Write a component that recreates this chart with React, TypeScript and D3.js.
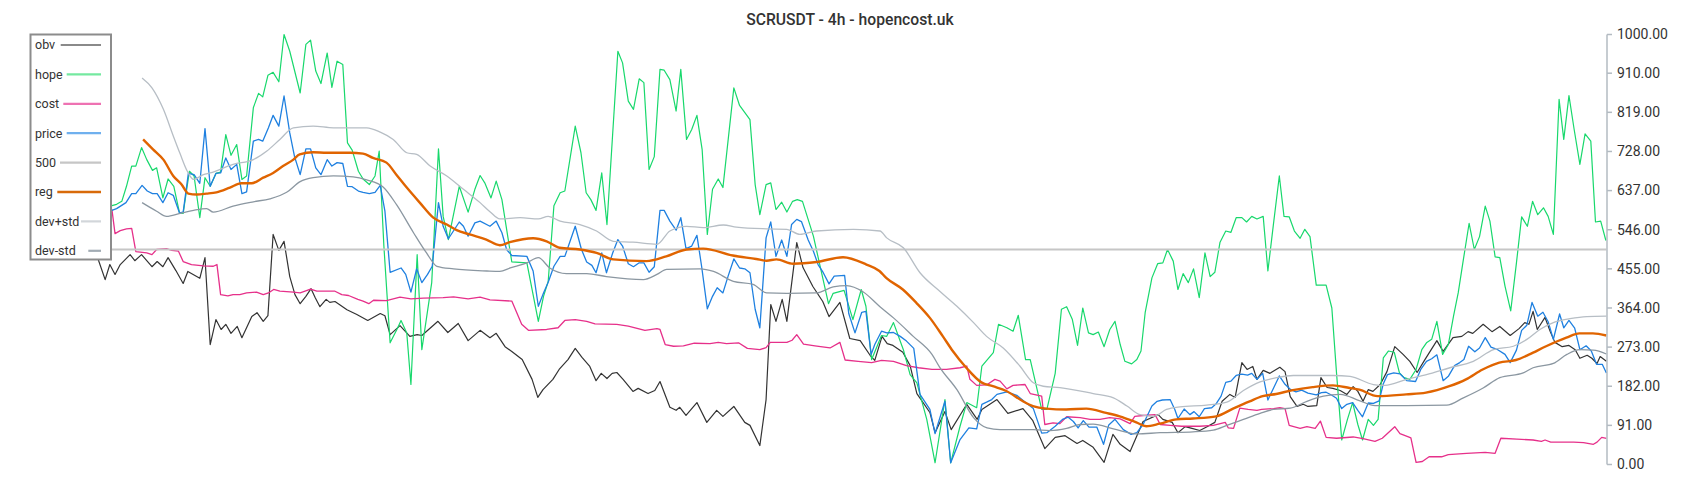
import React, { useEffect, useRef } from "react";
import * as d3 from "d3";

const TITLE = "SCRUSDT - 4h - hopencost.uk";
const BAR_COUNT = 303;
const yTickLabels = ["0.00", "91.00", "182.00", "273.00", "364.00", "455.00", "546.00", "637.00", "728.00", "819.00", "910.00", "1000.00"];
const LEVEL = 500;

type Pt = [number, number];

const obv: Pt[] = [[11.9,479],[13.3,430],[14.2,465],[15.2,442],[16.2,465],[18.1,488],[19,474],[20.3,488],[22.3,460],[23.3,472],[24.4,460],[25.4,481],[26.9,451],[28.3,421],[29.2,449],[31.5,433],[32.5,481],[33.5,279],[34.6,337],[35.6,314],[36.5,326],[37.5,305],[38.7,321],[39.6,295],[41.5,344],[42.5,353],[43.7,333],[44.6,346],[45.6,535],[46.7,498],[47.7,519],[48.8,437],[49.8,395],[50.8,374],[51.9,391],[52.9,409],[53.7,388],[54.6,367],[55.8,384],[56.5,377],[57.5,379],[59.8,360],[61.7,349],[63.8,335],[66.2,351],[67.1,346],[68.1,302],[70,323],[71.9,298],[73.3,302],[74.2,300],[77.3,333],[79.2,307],[81.2,328],[83.1,288],[85.4,312],[87.3,295],[88.5,305],[90.2,274],[91.5,263],[93.5,244],[95.4,198],[96.5,156],[97.5,174],[99.4,198],[100.6,221],[102.3,244],[103.7,270],[105,249],[106.5,228],[107.7,195],[108.7,212],[109.8,200],[110.8,212],[111.7,214],[112.9,198],[114.8,170],[115.8,177],[117.7,165],[119,172],[120,193],[121.9,133],[123.1,126],[123.8,133],[125,114],[127.1,144],[129,98],[130.9,126],[132.1,112],[134.2,135],[136.3,98],[137.3,91],[139.2,44],[140.4,151],[141.3,372],[142.3,333],[143.5,384],[144.4,333],[146.3,516],[147.5,458],[149.4,414],[151.3,379],[152.5,344],[154.6,377],[156.5,293],[158.5,288],[160.4,254],[161.3,242],[162.7,298],[163.7,281],[164.8,277],[166.7,261],[168.1,230],[169.4,165],[171.9,121],[172.9,74],[174.8,123],[176,81],[179,140],[181,105],[181.9,128],[184.8,151],[186.9,119],[189.8,130],[191.7,102],[194,37],[196,63],[197.9,67],[200.2,49],[201.3,56],[203.3,40],[205.4,5],[207.1,70],[208.5,47],[210.4,30],[212.9,100],[215.8,116],[216.7,105],[218.5,98],[219.6,74],[221,88],[222.3,84],[223.8,79],[225.2,88],[226.7,98],[228.1,147],[229.6,163],[230.6,156],[231.9,237],[232.9,221],[234,228],[234.8,198],[236,219],[237.3,212],[239.2,226],[240.2,216],[241.2,158],[242.5,135],[243.7,140],[244.6,135],[246.3,137],[247.1,202],[248.3,179],[249.4,177],[250.8,172],[252.1,163],[253.3,181],[254.2,170],[255.2,147],[256.2,174],[257.1,170],[258.5,186],[259.8,216],[261.3,274],[262.9,256],[264.2,240],[265.6,214],[267.1,244],[269.4,288],[270.6,263],[272.5,295],[274.2,298],[275.4,309],[276.3,305],[278.3,326],[280,309],[281.5,321],[283.5,300],[285.2,316],[286.3,330],[287.1,326],[287.9,356],[288.7,314],[290.2,342],[291.2,309],[292.1,284],[293.5,274],[294.8,277],[296,267],[296.9,247],[298.3,254],[299.2,247],[300.2,235],[300.8,251],[302,240]];

const hope: Pt[] = [[14.6,602],[15.5,605],[16.5,612],[17.4,647],[18.4,694],[19.2,694],[20.3,737],[21.3,709],[22.4,684],[23.2,690],[24.4,620],[25.4,664],[26.5,647],[27.6,585],[28.3,584],[29.5,682],[30.4,671],[31.5,574],[32.5,667],[33.5,647],[34.6,677],[35.5,680],[36.5,767],[37.5,719],[38.6,744],[39.6,663],[40.5,671],[41.8,830],[42.8,863],[43.6,855],[44.6,905],[45.6,912],[46.7,890],[47.7,1000],[48.8,961],[50.8,864],[51.9,977],[52.8,987],[53.8,915],[54.8,886],[56,957],[56.9,877],[57.9,938],[59,930],[59.9,748],[60.8,731],[62,682],[62.9,664],[64.1,651],[65.2,671],[66,729],[66.9,508],[68.1,283],[69.4,314],[70.2,335],[71.3,306],[72.1,186],[73.3,488],[74.2,267],[76.1,423],[77.4,734],[78.3,577],[79.3,523],[81.4,647],[83.1,587],[84.4,640],[85.4,672],[86.3,655],[87.5,620],[88.5,659],[89.6,616],[91.5,471],[94.4,469],[96.6,333],[97.6,391],[98.5,426],[99.6,602],[100.8,632],[101.7,636],[103.7,787],[104.8,725],[105.8,632],[106.7,616],[107.7,591],[108.8,678],[109.8,558],[111.9,961],[112.8,934],[113.9,845],[114.9,826],[116,897],[116.9,888],[117.9,686],[118.9,716],[120,919],[120.8,917],[121.9,895],[123.1,822],[124,919],[125.1,756],[126.1,779],[127.1,812],[128.1,733],[129.1,535],[130.1,640],[131.2,664],[132.1,644],[134.2,876],[135.3,835],[137.3,802],[138.3,651],[139.2,581],[140.4,651],[141.3,655],[142.3,593],[143.4,610],[144.4,587],[145.5,612],[146.4,616],[147.4,612],[149.5,531],[152.4,374],[153.3,398],[155.4,405],[157.1,337],[158.7,407],[159.6,368],[160.7,244],[162.6,300],[163.6,298],[164.9,330],[166.8,267],[168.1,209],[169.4,190],[171.3,105],[172.9,4],[174.8,151],[175.9,4],[177.7,89],[179,144],[180.9,132],[181.9,229],[184.1,260],[185.1,326],[186.7,318],[187.9,310],[188.9,347],[190.3,244],[191.2,244],[193.4,128],[194.4,128],[196,212],[197.2,361],[198.2,367],[199.3,337],[200.3,277],[201.3,364],[202.4,306],[203.3,302],[204.3,308],[205.4,274],[206.5,314],[207.5,333],[208.5,279],[209.4,240],[210.7,234],[211.7,244],[212.5,264],[213.3,353],[214.6,434],[215.7,467],[216.7,469],[217.6,500],[218.7,473],[219.6,407],[220.6,444],[221.6,423],[222.6,455],[223.7,388],[224.8,492],[225.8,437],[226.7,447],[227.7,517],[228.8,543],[229.8,540],[230.8,574],[231.9,574],[232.8,564],[233.8,577],[234.8,571],[236,577],[236.9,450],[238,562],[239.1,671],[240,577],[241,576],[242,543],[243.1,526],[244,547],[245,530],[246.2,417],[248.1,417],[249.2,364],[250.1,213],[251.1,57],[252.2,105],[253.2,144],[254.2,93],[255.1,57],[256.2,105],[257.2,91],[258.1,105],[259.1,248],[260.1,264],[261.2,261],[262.2,213],[263.1,202],[264.2,198],[265.4,221],[266.5,267],[267.4,283],[268.4,291],[269.4,333],[270.5,256],[271.6,279],[272.6,345],[273.5,399],[274.5,477],[275.6,561],[276.6,500],[277.6,530],[278.7,601],[279.6,566],[280.6,483],[281.5,481],[282.5,415],[283.6,357],[284.7,469],[285.7,576],[286.8,554],[287.8,612],[288.8,581],[289.9,597],[290.8,577],[291.8,535],[292.9,849],[293.8,756],[294.8,858],[295.8,779],[296.9,698],[297.9,769],[299,752],[299.9,564],[300.9,566],[301.9,521]];

const cost: Pt[] = [[14.6,593],[15.2,537],[16.2,544],[17.4,548],[18.4,549],[19.2,495],[21.3,492],[22.3,488],[23.2,500],[25.1,502],[26.1,498],[27.4,496],[28.3,472],[29.9,465],[32.2,462],[34.1,461],[34.8,465],[35.5,395],[36.9,392],[37.9,395],[39.2,395],[40.5,399],[42.4,401],[43.7,395],[44.7,399],[45.7,407],[46.9,403],[49.5,401],[50.8,399],[52.8,408],[54,403],[57.5,403],[58.8,395],[60.1,393],[61.9,384],[62.9,380],[64,374],[64.9,382],[67.4,381],[70,389],[72.1,385],[74.5,387],[78.3,388],[80.3,390],[83.1,385],[85.4,389],[87.3,383],[91.5,380],[93.4,326],[94.7,312],[98.2,314],[100.4,318],[101.7,335],[103.7,337],[105.9,333],[107.5,327],[111.7,326],[113.9,322],[117.1,312],[119.4,316],[120,314],[121,279],[122.6,275],[124.5,276],[126.6,282],[129.6,281],[131.2,284],[132.8,281],[135.1,283],[136.8,270],[139.2,267],[140.4,272],[141.2,284],[142.8,284],[144.4,284],[145.4,289],[146.3,302],[147.6,280],[149.8,276],[152.7,271],[154.6,284],[155.6,243],[158.1,240],[160.7,237],[162.6,242],[164.9,240],[167.4,230],[169.7,225],[172.3,221],[175.1,221],[177.7,225],[179,229],[179.6,198],[180.9,184],[182.8,185],[184.4,198],[185.4,194],[186.7,176],[187.9,184],[190.2,186],[191.2,165],[193.4,159],[194,93],[195.6,97],[196.9,95],[198.2,111],[200.8,109],[202.7,105],[204.6,105],[206.5,109],[208.5,106],[210.4,95],[211.3,112],[212.9,114],[215.2,116],[216.2,93],[218.1,91],[220.3,89],[223.8,89],[226.4,91],[228.7,98],[229.3,85],[230.3,84],[231.5,131],[233.1,128],[234.8,126],[235.7,128],[238,130],[239.2,132],[240.2,130],[241,91],[243.1,84],[244.4,88],[246,84],[247,101],[248.1,63],[250.1,61],[253.3,64],[255.2,60],[257.5,54],[258.9,61],[261.3,88],[262.3,72],[263.8,65],[264.4,62],[265.4,5],[266.6,7],[267.9,18],[270.3,18],[271.6,23],[275.1,26],[278.7,28],[280.6,26],[281.7,61],[284.8,59],[287.9,57],[289.5,54],[290.2,57],[291.3,52],[295.7,52],[297.6,51],[299.5,47],[300.2,52],[301.1,63],[302,61]];

const price: Pt[] = [[14.6,591],[15.5,595],[17.3,609],[18.4,630],[19.2,630],[20.4,649],[21.4,636],[22.4,630],[23.3,630],[24.4,609],[25.4,632],[26.4,626],[27.6,585],[28.3,587],[29.3,677],[30.4,674],[31.5,654],[32.5,781],[33.5,647],[34.6,677],[35.5,678],[36.5,713],[37.5,686],[38.6,698],[39.6,630],[40.5,634],[41.8,752],[42.8,756],[43.6,752],[44.7,783],[45.6,812],[46.7,787],[47.7,857],[48.8,771],[49.7,717],[50.8,674],[51.9,734],[52.8,734],[53.8,690],[54.8,674],[56,709],[56.9,694],[57.9,702],[59,700],[59.9,647],[60.8,646],[62,636],[62.9,633],[64.1,630],[65.2,633],[66.2,649],[67.1,589],[68.1,447],[70.2,457],[71.1,442],[72.1,401],[73.2,455],[74.2,423],[75.3,442],[76.2,461],[77.4,609],[78.3,554],[79.3,525],[81.4,564],[82.2,554],[83.1,531],[84.4,562],[85.4,566],[87.3,554],[88.5,566],[89.6,539],[90.5,500],[91.5,486],[94.4,484],[95.6,450],[96.6,368],[97.6,399],[98.5,424],[99.6,461],[100.8,484],[101.7,484],[103.7,554],[104.9,500],[105.9,471],[106.9,463],[107.7,446],[108.8,492],[109.7,446],[110.9,492],[111.9,523],[112.8,508],[113.9,467],[114.9,460],[116,469],[116.9,469],[117.9,447],[118.9,460],[120,591],[120.8,591],[121.9,566],[123.1,545],[124,574],[125,502],[126.1,508],[127.1,533],[128,461],[129.1,362],[130.1,391],[131,411],[132.1,399],[133.1,438],[134.2,478],[135.3,457],[136.3,455],[137.3,446],[138.3,361],[139.2,318],[140.4,527],[141.3,564],[142.3,484],[143.4,522],[144.4,484],[145.3,558],[146.3,570],[147.2,565],[148.5,522],[149.5,496],[150.4,465],[151.4,446],[152.5,420],[153.5,438],[155.5,440],[156.3,351],[157.5,306],[158.8,354],[159.6,356],[160.6,256],[161.3,279],[162.6,310],[163.6,306],[164.9,307],[166.2,298],[167.4,287],[168.8,270],[170,163],[171.9,128],[172.9,72],[174.8,147],[175.9,4],[177.7,58],[179.4,85],[180.9,83],[181.9,140],[182.8,145],[183.8,151],[184.8,163],[186.7,169],[188.6,161],[190.3,144],[191.8,130],[193.4,73],[194.4,74],[196,89],[197.4,105],[198.5,110],[199.5,100],[200.4,85],[201.4,102],[202.5,87],[204,87],[205.3,47],[206.3,92],[207.5,105],[209.1,81],[210.6,70],[211.7,74],[212.9,93],[214.6,136],[215.6,147],[216.6,150],[218.1,151],[219,128],[219.6,107],[220.8,129],[221.9,116],[222.7,123],[223.7,111],[224.7,130],[226.1,132],[227,142],[227.9,159],[228.8,191],[229.8,194],[230.8,207],[231.9,210],[233,208],[233.8,212],[234.8,198],[235.9,212],[236.9,150],[238,178],[239.1,206],[240.1,188],[241.3,174],[242.3,169],[243.4,173],[244.6,166],[246.2,162],[247.2,167],[248.1,168],[249.2,161],[250.1,154],[251.1,130],[252.1,140],[253.2,144],[254.2,126],[255.1,111],[256.2,143],[257.2,142],[258.3,148],[259.1,188],[259.9,209],[261.1,213],[262.3,211],[263.6,195],[265.3,193],[266.3,221],[267.4,240],[268.4,246],[269.4,255],[270.6,195],[271.6,205],[272.8,230],[273.8,237],[274.6,244],[275.5,275],[276.7,262],[277.6,271],[278.7,295],[279.8,273],[281.1,267],[282.5,256],[283.5,237],[284.7,266],[285.7,312],[286.7,324],[287.7,377],[288.8,345],[289.8,354],[290.8,332],[291.8,291],[293,350],[293.8,318],[294.8,335],[295.9,317],[296.9,267],[298.1,276],[299.1,264],[300.1,233],[301.2,233],[302,213]];

const reg: Pt[] = [[20.6,756],[22.5,733],[24.5,709],[26.4,671],[28,651],[29.3,630],[30.9,628],[32.8,630],[34.7,633],[37.3,644],[39.5,654],[41.5,654],[43.7,667],[45.6,678],[47.5,694],[49.5,709],[50.7,721],[53.3,726],[55.9,725],[60.4,725],[62.9,723],[64.8,713],[67.4,702],[69.3,674],[71.3,644],[73.8,609],[76.4,574],[79,558],[80.9,545],[83.4,535],[86.6,523],[89.2,510],[91.1,517],[95.6,526],[98.2,519],[100.7,504],[104.6,500],[107.8,492],[111,477],[117.4,473],[121.2,484],[125.1,500],[128.3,502],[134,486],[138.5,478],[140.5,474],[142.4,477],[145.6,467],[150.1,471],[155.2,482],[159.7,465],[162.2,450],[163.5,434],[166.7,407],[169.3,376],[171.9,341],[174.4,298],[176.3,264],[178.9,225],[181.8,191],[184,182],[186.6,171],[189.8,147],[191.7,136],[194.3,130],[198.1,128],[202,130],[205.8,120],[208.4,112],[211.6,98],[213.5,89],[216.1,95],[219.3,105],[222.5,107],[227,112],[230.2,130],[233.4,147],[235.9,159],[238.5,164],[241.7,173],[245.5,180],[249.4,184],[252.6,178],[254.5,174],[258,159],[263.5,163],[267.3,167],[271.8,182],[275,198],[278.2,221],[281.4,237],[284.6,243],[287.2,256],[290.4,275],[294.3,295],[296.8,305],[299.4,305],[302,300]];

const devPlus: Pt[] = [[20.4,899],[22.3,876],[24.5,826],[26.4,764],[27.7,723],[29.1,682],[30.3,663],[32.2,674],[33.5,678],[37.9,698],[41.8,709],[44.4,729],[46.9,756],[49.5,783],[53.3,787],[57.2,783],[63.6,783],[66.2,773],[68.7,756],[71.3,725],[73.2,721],[75.8,694],[79,671],[82.2,640],[85.4,609],[87.3,588],[89.2,571],[93.1,574],[96.6,571],[98.5,577],[100.8,566],[104.6,558],[107.8,543],[111,519],[114.8,517],[119.4,512],[121.9,543],[125.1,554],[128.3,551],[132.2,557],[134.7,552],[140.5,548],[144.4,547],[146.9,535],[150.1,543],[157.2,547],[162.3,543],[163.6,527],[166.8,504],[170,446],[173.8,403],[177.1,368],[180.3,330],[182.8,298],[186,271],[189.2,229],[191.8,190],[193.7,182],[196.9,179],[203.3,165],[207.2,155],[209.8,136],[212.3,116],[214.9,112],[217.4,128],[220,134],[225.1,138],[229,145],[232.2,172],[235.4,192],[238.6,202],[241.8,207],[249.5,207],[252.7,205],[257.2,186],[259.4,184],[263.6,198],[267.4,209],[271.9,225],[276.4,240],[280.3,267],[284.1,275],[286.7,291],[289.2,314],[291.8,330],[295,339],[298.2,344],[302,345]];

const devMinus: Pt[] = [[20.4,609],[23.2,589],[25.1,577],[27.7,584],[30.3,591],[32.8,595],[34.1,587],[37.9,601],[41.8,611],[45,618],[48.2,633],[50.8,658],[53.3,667],[57.2,671],[61,669],[63.6,662],[66.8,645],[69.4,603],[72.6,539],[75.1,492],[77.1,461],[80.3,455],[86.7,450],[89.2,449],[91.2,457],[94.4,469],[96.6,481],[98.8,457],[102,444],[105.9,444],[109.7,437],[116.8,430],[119.4,442],[121.3,454],[127.7,455],[130.3,449],[134.1,426],[137.9,419],[140.5,399],[144.4,398],[150.1,399],[153.3,413],[155.9,416],[159.1,401],[162.3,367],[164.9,341],[168.7,298],[172.3,256],[173.8,226],[177.1,174],[180.3,109],[182.9,85],[185.4,81],[191.8,81],[195,79],[198.2,84],[200.8,93],[203.3,94],[207.2,83],[211.7,71],[216.2,74],[222.5,76],[226.4,80],[229,91],[232.2,105],[235.4,119],[238,128],[241.2,131],[244.4,147],[247.6,159],[250.8,163],[254.6,148],[257.5,137],[263.6,137],[271.3,138],[274.5,155],[278.3,178],[281.5,202],[286,213],[287.9,225],[291.8,235],[294.4,256],[296.9,267],[299.5,266],[302,257]];

const levelLine: Pt[] = [[0, LEVEL], [BAR_COUNT - 1, LEVEL]];

const legendNames = ["obv", "hope", "cost", "price", "500", "reg", "dev+std", "dev-std"];

export default function App() {
  const ref = useRef<SVGSVGElement>(null);

  useEffect(() => {
    document.body.style.margin = "0";
    const svg = d3.select(ref.current);
    svg.selectAll("*").remove();

    const x = d3.scaleLinear().domain([0, BAR_COUNT - 1]).range([36, 1606.4]);
    const y = d3.scaleLinear().domain([0, 1000]).range([464.5, 34.5]);

    const jag = d3.line<Pt>().x(d => x(d[0])).y(d => y(d[1])).curve(d3.curveLinear);
    const smooth = d3.line<Pt>().x(d => x(d[0])).y(d => y(d[1])).curve(d3.curveMonotoneX);

    const series = [
      { data: obv, color: "#333333", width: 1.2, gen: jag },
      { data: hope, color: "#18d86c", width: 1.2, gen: jag },
      { data: cost, color: "#e6308a", width: 1.3, gen: jag },
      { data: price, color: "#1f80e0", width: 1.3, gen: jag },
      { data: levelLine, color: "#c6c6c6", width: 2, gen: jag },
      { data: reg, color: "#e06400", width: 2.4, gen: smooth },
      { data: devPlus, color: "#b7bec5", width: 1.3, gen: smooth },
      { data: devMinus, color: "#8b97a1", width: 1.3, gen: smooth },
    ];

    const g = svg.append("g");
    series.forEach(s => {
      g.append("path")
        .attr("d", s.gen(s.data) as string)
        .attr("fill", "none")
        .attr("stroke", s.color)
        .attr("stroke-width", s.width)
        .attr("stroke-linejoin", "round");
    });

    // Right axis
    const axisX = 1607;
    const ax = svg.append("g");
    ax.append("line")
      .attr("x1", axisX).attr("x2", axisX)
      .attr("y1", y(1000)).attr("y2", y(0))
      .attr("stroke", "#b3bbc2").attr("stroke-width", 1.5);
    yTickLabels.forEach(lbl => {
      const v = parseFloat(lbl);
      const ty = y(v);
      ax.append("line")
        .attr("x1", axisX).attr("x2", axisX + 5)
        .attr("y1", ty).attr("y2", ty)
        .attr("stroke", "#b3bbc2").attr("stroke-width", 1.5);
      ax.append("text")
        .attr("x", axisX + 10).attr("y", ty)
        .attr("dy", "0.35em")
        .attr("font-family", "Roboto, 'Noto Sans', sans-serif")
        .attr("font-size", 14)
        .attr("fill", "#333")
        .text(lbl);
    });

    // Title
    svg.append("text")
      .attr("x", 850).attr("y", 25)
      .attr("text-anchor", "middle")
      .attr("font-family", "Roboto, 'Noto Sans', sans-serif")
      .attr("font-size", 15.7)
      .attr("font-weight", 500)
      .attr("fill", "#333")
      .text(TITLE);

    // Legend
    const legendColors = ["#8a8a8a", "#74e9a0", "#ee72b2", "#6fb0ee", "#c6c6c6", "#d86a0a", "#d2d6da", "#a2acb4"];
    const legendLineStart = [60.7, 66.7, 63.3, 66.7, 60, 57.3, 81, 88.3];
    const lg = svg.append("g");
    lg.append("rect")
      .attr("x", 30.5).attr("y", 34.5)
      .attr("width", 80.5).attr("height", 225)
      .attr("fill", "#fff")
      .attr("stroke", "#8c8c8c").attr("stroke-width", 2);
    legendNames.forEach((name, i) => {
      const cy = 45 + i * 29.4;
      lg.append("text")
        .attr("x", 35).attr("y", cy)
        .attr("dy", "0.35em")
        .attr("font-family", "Roboto, 'Noto Sans', sans-serif")
        .attr("font-size", 12.5)
        .attr("fill", "#333")
        .text(name);
      lg.append("line")
        .attr("x1", legendLineStart[i]).attr("x2", 101)
        .attr("y1", cy).attr("y2", cy)
        .attr("stroke", legendColors[i])
        .attr("stroke-width", i === 5 ? 2.6 : 2.2);
    });
  }, []);

  return <svg ref={ref} width={1700} height={500} style={{ display: "block", background: "#fff" }} />;
}
